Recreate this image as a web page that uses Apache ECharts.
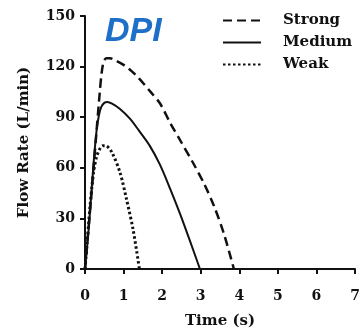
<!DOCTYPE html>
<html><head><meta charset="utf-8">
<script src="https://cdn.jsdelivr.net/npm/echarts@6/dist/echarts.min.js"></script>
<style>html,body{margin:0;padding:0;background:#fff}#c{width:360px;height:330px}</style>
</head><body><div id="c"></div>
<script>
var titleText = 'DPI';
var seriesNames = ['Strong', 'Medium', 'Weak'];
var xTicks = [0, 1, 2, 3, 4, 5, 6, 7];
var yTicks = [0, 30, 60, 90, 120, 150];
var strongData = [[0,0],[0.15,40],[0.3,82],[0.38,104],[0.43,116],[0.48,122.5],[0.55,125],[0.65,125],[0.8,123.5],[1.0,121],[1.2,117.5],[1.4,113],[1.7,105],[1.95,98],[2.2,87],[2.5,75],[2.8,63],[3.1,50],[3.35,37],[3.6,21],[3.86,0]];
var mediumData = [[0,0],[0.1,25],[0.22,62],[0.3,82],[0.36,91],[0.42,96],[0.5,98.5],[0.58,99],[0.7,98],[0.9,95],[1.17,89],[1.4,82],[1.68,73],[1.94,62],[2.2,48],[2.46,33],[2.7,18],[2.98,0]];
var weakData = [[0,0],[0.04,11],[0.13,37],[0.22,57],[0.3,66.5],[0.38,71],[0.46,73],[0.54,73],[0.7,69],[0.91,57],[1.08,41],[1.25,23],[1.41,0]];

var serif = 'DejaVu Serif';
var chart = echarts.init(document.getElementById('c'));
chart.setOption({
  backgroundColor: '#ffffff',
  animation: false,
  grid: {left: 85, right: 5, top: 16, bottom: 61, containLabel: false, outerBoundsMode: 'none'},
  graphic: [{
    type: 'text', left: 105, top: 15,
    style: {text: titleText, font: 'italic bold 34px "Liberation Sans", Arial, sans-serif', fill: '#1e6fc8'}
  }],
  legend: {
    orient: 'vertical', left: 222, top: 13, padding: 0, itemWidth: 38, itemHeight: 14, itemGap: 7,
    data: seriesNames,
    itemStyle: {opacity: 0},
    textStyle: {fontFamily: serif, fontWeight: 'bold', fontSize: 15, color: '#111', padding: [0, 0, 0, 17]}
  },
  xAxis: {
    type: 'value', min: xTicks[0], max: xTicks[xTicks.length - 1], interval: 1,
    name: 'Time (s)', nameLocation: 'middle', nameGap: 45,
    nameTextStyle: {fontFamily: serif, fontWeight: 'bold', fontSize: 15, color: '#111'},
    axisLine: {lineStyle: {color: '#111', width: 2}},
    axisTick: {show: true, length: 5, lineStyle: {color: '#111', width: 2}},
    axisLabel: {fontFamily: serif, fontWeight: 'bold', fontSize: 14, color: '#111', margin: 20},
    splitLine: {show: false}
  },
  yAxis: {
    type: 'value', min: yTicks[0], max: yTicks[yTicks.length - 1], interval: 30,
    name: 'Flow Rate (L/min)', nameLocation: 'middle', nameGap: 53,
    nameTextStyle: {fontFamily: serif, fontWeight: 'bold', fontSize: 15, color: '#111'},
    axisLine: {show: true, lineStyle: {color: '#111', width: 2}},
    axisTick: {show: true, length: 5, lineStyle: {color: '#111', width: 2}},
    axisLabel: {fontFamily: serif, fontWeight: 'bold', fontSize: 14, color: '#111', margin: 10},
    splitLine: {show: false}
  },
  series: [
    {name: seriesNames[0], type: 'line', data: strongData, symbol: 'none', smooth: 0.3,
     lineStyle: {color: '#111', width: 2.5, type: [9, 5]}, itemStyle: {color: '#111'}},
    {name: seriesNames[1], type: 'line', data: mediumData, symbol: 'none', smooth: 0.3,
     lineStyle: {color: '#111', width: 2}, itemStyle: {color: '#111'}},
    {name: seriesNames[2], type: 'line', data: weakData, symbol: 'none', smooth: 0.3,
     lineStyle: {color: '#111', width: 3, type: [2.5, 2.5]}, itemStyle: {color: '#111'}}
  ]
});
</script></body></html>
